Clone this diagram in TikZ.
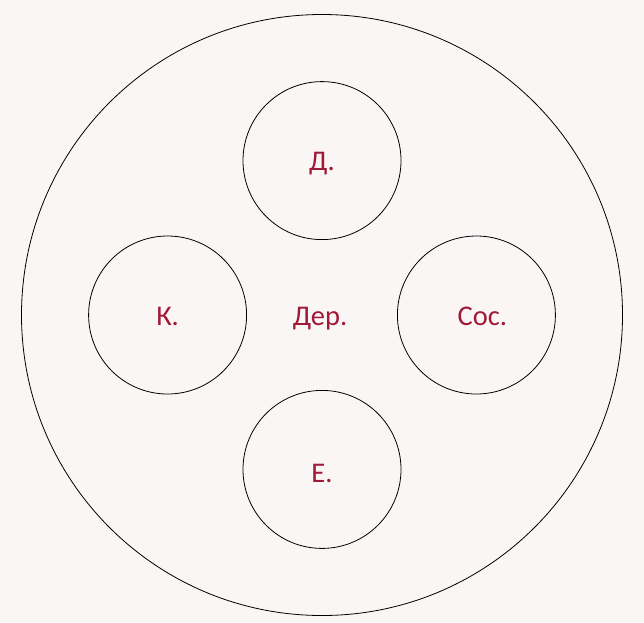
\documentclass[tikz,border=0pt]{standalone}
\usepackage{fontspec}
\setmainfont{Carlito}
\usepackage{xcolor}
\definecolor{LABELCOLOR}{RGB}{160,25,55}
\definecolor{PAPERCOLOR}{RGB}{250,246,246}
\usetikzlibrary{positioning}
\tikzset{
  ring-style/.style = {
    circle, draw, line width=0.8pt,
    inner sep=0pt,
    minimum size=#1
  },
  outer-style/.style = {
    ring-style=601pt
  },
  part-style/.style = {
    ring-style=158pt
  },
  label-style/.style = {
    text=LABELCOLOR, inner sep=0pt, anchor=base,
    font=\fontsize{28.5}{32}\selectfont
  },
  main-style/.style = {
    x=1pt, y=-1pt
  }
}
\newlength\partDistance
\setlength\partDistance{75pt}
\def\createPart name:#1 display:#2 direct:#3 shift:#4;{
  \node [part-style, #3=\partDistance of hub] (#1) {};
  \node [label-style] (#1-label) at ([#4]#1.center) {#2};
}

\begin{document}
\begin{tikzpicture}[main-style]
    \useasboundingbox[fill=PAPERCOLOR] (0,0) rectangle (644,622);
    \coordinate (hub) at (322,315);
    \node [outer-style] (outer) at (hub) {};

    \createPart name:top display:{Д.} direct:above shift:{yshift=-10pt};
    \createPart name:left display:{К.} direct:left shift:{yshift=-10pt};
    \createPart name:right display:{Сос.} direct:right shift:{xshift=6pt,yshift=-10pt};
    \createPart name:bottom display:{Е.} direct:below shift:{yshift=-13pt};

    \node [label-style] (core) at ([xshift=-2pt,yshift=-10pt]hub) {Дер.};
\end{tikzpicture}
\end{document}
